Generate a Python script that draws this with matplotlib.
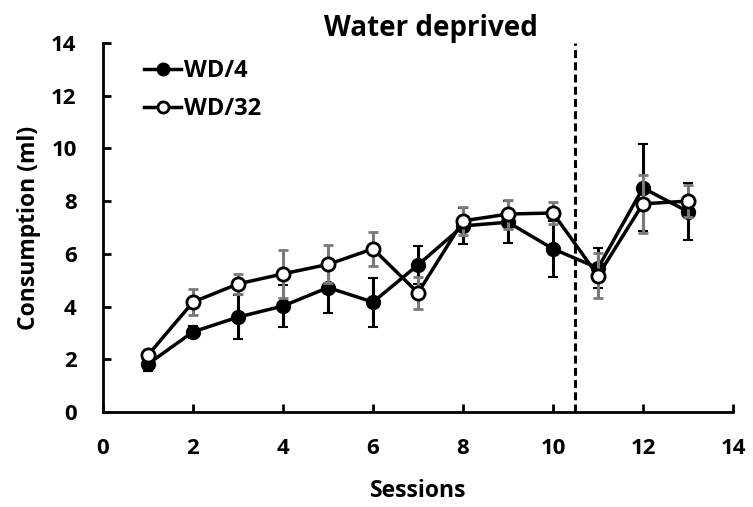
import matplotlib
matplotlib.use("Agg")
import matplotlib.pyplot as plt
from matplotlib.lines import Line2D

sessions = [1, 2, 3, 4, 5, 6, 7, 8, 9, 10, 11, 12, 13]
wd4 = [1.82, 3.04, 3.6, 4.02, 4.72, 4.17, 5.58, 7.06, 7.2, 6.19, 5.46, 8.5, 7.6]
wd4_err = [0.25, 0.22, 0.84, 0.8, 0.98, 0.93, 0.72, 0.68, 0.8, 1.05, 0.76, 1.65, 1.07]
wd32 = [2.16, 4.17, 4.86, 5.24, 5.6, 6.19, 4.52, 7.25, 7.51, 7.55, 5.17, 7.9, 8.0]
wd32_err = [0.2, 0.5, 0.38, 0.9, 0.72, 0.65, 0.6, 0.52, 0.55, 0.4, 0.85, 1.1, 0.62]
divider = 10.5
labels = ['WD/4', 'WD/32']

plt.rcParams['font.family'] = ['Open Sans', 'DejaVu Sans']
plt.rcParams['font.weight'] = 'bold'

fig = plt.figure(figsize=(7.53, 5.07), dpi=100)
ax = fig.add_axes([0.1368, 0.1874, 0.8366, 0.7278])

ax.errorbar(sessions, wd4, yerr=wd4_err, color='black', ecolor='black',
            elinewidth=2.2, capsize=3.5, capthick=2.2, lw=2.5,
            marker='o', markersize=9.5, markerfacecolor='black',
            markeredgecolor='black', markeredgewidth=1.5, zorder=3)
ax.errorbar(sessions, wd32, yerr=wd32_err, color='black', ecolor='#7a7a7a',
            elinewidth=2.2, capsize=3.5, capthick=2.2, lw=2.5,
            marker='o', markersize=9.5, markerfacecolor='white',
            markeredgecolor='black', markeredgewidth=2, zorder=4)

ax.axvline(divider, color='black', ls=(0, (2.6, 1.4)), lw=2.2, zorder=1)

ax.set_xlim(0, 14)
ax.set_ylim(0, 14)
ax.set_xticks(range(0, 15, 2))
ax.set_yticks(range(0, 15, 2))
for s in ['top', 'right']:
    ax.spines[s].set_visible(False)
for s in ['left', 'bottom']:
    ax.spines[s].set_linewidth(2)
ax.tick_params(direction='in', length=6, width=2, labelsize=16)
ax.tick_params(axis='x', pad=19)
ax.tick_params(axis='y', pad=19)
for lab in ax.get_xticklabels() + ax.get_yticklabels():
    lab.set_fontweight('bold')

ax.set_xlabel('Sessions', fontsize=16.5, fontweight='bold', labelpad=14)
ax.set_ylabel('Consumption (ml)', fontsize=16.5, fontweight='bold', labelpad=7)
ax.set_title('Water deprived', fontsize=20, fontweight='bold', x=0.52, pad=4)

handles = [
    Line2D([], [], color='black', lw=2.5, marker='o', markersize=9,
           markerfacecolor='black', markeredgecolor='black'),
    Line2D([], [], color='black', lw=2.5, marker='o', markersize=8,
           markerfacecolor='white', markeredgecolor='black', markeredgewidth=2),
]
leg = ax.legend(handles, labels, loc='upper left', bbox_to_anchor=(0.042, 0.995),
                frameon=False, fontsize=17, handlelength=1.6, handletextpad=0.1,
                labelspacing=0.6, borderaxespad=0.2)
for t in leg.get_texts():
    t.set_fontweight('bold')

fig.savefig('out.png', dpi=100)
